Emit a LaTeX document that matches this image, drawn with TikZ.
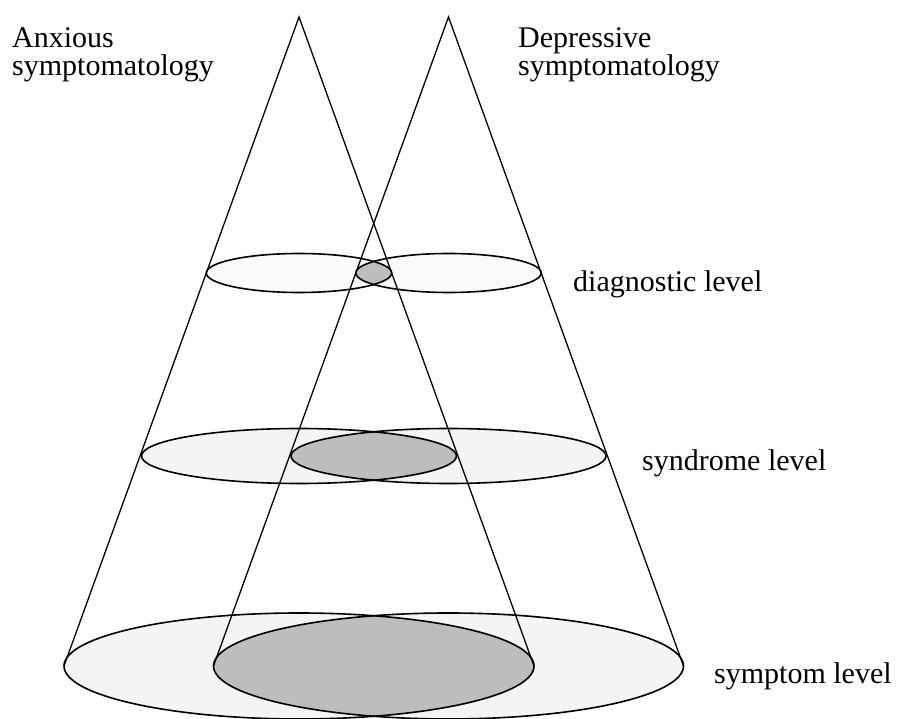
\documentclass[tikz,border=0pt]{standalone}
\usepackage{fontspec}
\setmainfont{Liberation Serif}
\definecolor{lensgray}{HTML}{BDBDBD}
\definecolor{lightfill}{HTML}{F4F4F4}
\definecolor{palefill}{HTML}{FAFAFA}
\begin{document}
\begin{tikzpicture}[x=1pt,y=-1pt,
  conestroke/.style={line width=1.3pt},
  rimstroke/.style={line width=1.6pt},
  lbl/.style={inner sep=0pt,anchor=base west,align=left,font=\fontsize{30}{28.5}\selectfont}]
\useasboundingbox (0,0) rectangle (898,719);
% apexes
\coordinate (A) at (299,17);
\coordinate (B) at (448.5,17);
% base points (symptom level)
\coordinate (AL) at (64,666);
\coordinate (AR) at (534,666);
\coordinate (BL) at (213.5,666);
\coordinate (BR) at (683.5,666);
% light fills
\fill[palefill] (299,273) ellipse [x radius=92.7,y radius=19.5];
\fill[palefill] (448.5,273) ellipse [x radius=92.7,y radius=19.5];
\fill[lightfill] (299,456) ellipse [x radius=157.5,y radius=27.5];
\fill[lightfill] (448.5,456) ellipse [x radius=157.5,y radius=27.5];
\fill[lightfill] (299,666) ellipse [x radius=235,y radius=53];
\fill[lightfill] (448.5,666) ellipse [x radius=235,y radius=53];
% lens overlaps
\begin{scope}
  \clip (299,273) ellipse [x radius=92.7,y radius=19.5];
  \fill[lensgray] (448.5,273) ellipse [x radius=92.7,y radius=19.5];
\end{scope}
\begin{scope}
  \clip (299,456) ellipse [x radius=157.5,y radius=27.5];
  \fill[lensgray] (448.5,456) ellipse [x radius=157.5,y radius=27.5];
\end{scope}
\begin{scope}
  \clip (299,666) ellipse [x radius=235,y radius=53];
  \fill[lensgray] (448.5,666) ellipse [x radius=235,y radius=53];
\end{scope}
% ellipse outlines
\draw[rimstroke] (299,273) ellipse [x radius=92.7,y radius=19.5];
\draw[rimstroke] (448.5,273) ellipse [x radius=92.7,y radius=19.5];
\draw[rimstroke] (299,456) ellipse [x radius=157.5,y radius=27.5];
\draw[rimstroke] (448.5,456) ellipse [x radius=157.5,y radius=27.5];
\draw[rimstroke] (299,666) ellipse [x radius=235,y radius=53];
\draw[rimstroke] (448.5,666) ellipse [x radius=235,y radius=53];
% cone lines
\draw[conestroke] (AL) -- (A) -- (AR);
\draw[conestroke] (BL) -- (B) -- (BR);
% labels
\node[lbl] (anx) at (12,76) {Anxious\\symptomatology};
\node[lbl] (dep) at (518,76) {Depressive\\symptomatology};
\node[lbl] (diag) at (573,292) {diagnostic level};
\node[lbl] (synd) at (642,471) {syndrome level};
\node[lbl] (symp) at (714,683) {symptom level};
\end{tikzpicture}
\end{document}
